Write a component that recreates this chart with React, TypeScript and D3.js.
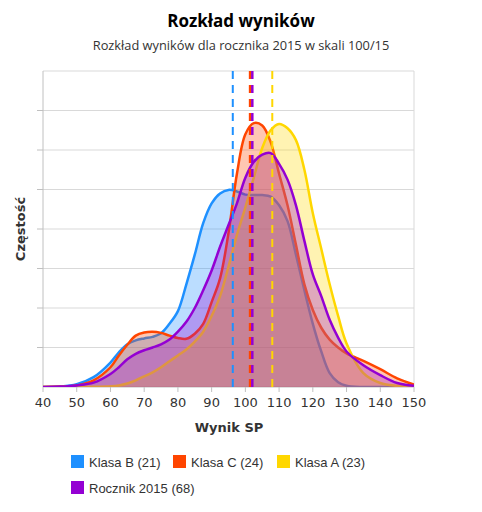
import React from "react";
import * as d3 from "d3";

const xs = [40,45,50,55,60,62.5,65,67.5,70,72.5,75,77.5,80,82.5,85,87.5,90,92.5,95,97.5,100,102.5,105,107.5,110,112.5,115,117.5,120,122.5,125,127.5,130,135,140,145,150];

const klasaB = [0,0.01,0.07,0.25,0.62,0.88,1.08,1.18,1.23,1.27,1.36,1.6,1.92,2.6,3.35,4.15,4.65,4.9,4.99,4.95,4.87,4.86,4.86,4.82,4.6,4.2,3.35,2.45,1.6,0.9,0.35,0.12,0.03,0,0,0,0];
const klasaC = [0,0.01,0.04,0.17,0.5,0.8,1.07,1.3,1.38,1.4,1.37,1.3,1.24,1.22,1.35,1.6,2.15,2.75,3.9,5.4,6.4,6.68,6.62,6.2,5.4,4.6,3.6,2.6,1.95,1.5,1.2,1.0,0.85,0.66,0.45,0.22,0.06];
const klasaA = [0,0,0,0.005,0.02,0.04,0.09,0.17,0.27,0.37,0.5,0.65,0.8,0.95,1.15,1.4,1.8,2.3,3.05,3.85,4.55,5.3,6.05,6.5,6.66,6.55,6.25,5.5,4.4,3.5,2.6,1.8,1.1,0.35,0.1,0.03,0.01];
const rocznik = [0,0.01,0.04,0.11,0.33,0.5,0.7,0.84,0.93,1.0,1.08,1.2,1.4,1.65,2.0,2.45,2.95,3.55,4.1,4.65,5.3,5.7,5.88,5.92,5.65,5.25,4.6,3.7,2.85,2.3,1.7,1.25,0.9,0.55,0.3,0.1,0.03];

const seriesNames = ["Klasa B (21)", "Klasa C (24)", "Klasa A (23)", "Rocznik 2015 (68)"];
const seriesColors = ["#1E90FF", "#FF4500", "#FFD700", "#9400D3"];
const seriesValues = [klasaB, klasaC, klasaA, rocznik];
const seriesMeans = [96.27, 101.4, 107.98, 102.06];
const meanWidths = [2, 2.5, 2, 2.5];

const xTicks = [40,50,60,70,80,90,100,110,120,130,140,150];
const yTicks = [0,1,2,3,4,5,6,7,8];

const title = "Rozkład wyników";
const subtitle = "Rozkład wyników dla rocznika 2015 w skali 100/15";
const xTitle = "Wynik SP";
const yTitle = "Częstość";

const legendPos = [[71, 455], [173, 455], [277, 455], [71, 481]];

export default function App() {
  const left = 43, right = 414, top = 71, bottom = 387;
  const x = d3.scaleLinear().domain([40, 150]).range([left, right]);
  const y = d3.scaleLinear().domain([0, 8]).range([bottom, top]);

  const curve = d3.curveCatmullRom.alpha(0.5);
  const area = d3.area<[number, number]>()
    .x(d => x(d[0])).y0(y(0)).y1(d => y(d[1]))
    .curve(curve);
  const line = d3.line<[number, number]>()
    .x(d => x(d[0])).y(d => y(d[1]))
    .curve(curve);

  const axisFont = "'DejaVu Sans', Verdana, sans-serif";

  return (
    <svg width={482} height={512} style={{ position: "absolute", left: 0, top: 0, background: "#fff" }}
      fontFamily="'Open Sans', 'Noto Sans', sans-serif">
      <defs>
        <clipPath id="plotClip">
          <rect x={left} y={top} width={right - left} height={bottom - top} />
        </clipPath>
      </defs>
      <text x={241} y={27} textAnchor="middle" fontSize={17} fontWeight="bold" fill="#000">{title}</text>
      <text x={241} y={50} textAnchor="middle" fontSize={12.8} fill="#333">{subtitle}</text>

      {yTicks.slice(1).map(t => (
        <line key={"g" + t} x1={left} x2={right} y1={y(t)} y2={y(t)} stroke="#d9d9d9" strokeWidth={1} />
      ))}
      <line x1={right} x2={right} y1={top} y2={bottom} stroke="#d9d9d9" />
      {yTicks.slice(1, -1).map(t => (
        <line key={"yt" + t} x1={left - 6} x2={left} y1={y(t)} y2={y(t)} stroke="#c0c0c0" />
      ))}
      <line x1={left} x2={left} y1={top} y2={bottom} stroke="#c0c0c0" />
      <line x1={left} x2={right} y1={bottom} y2={bottom} stroke="#c0c0c0" />
      {xTicks.map(t => (
        <line key={"xt" + t} x1={x(t)} x2={x(t)} y1={bottom} y2={bottom + 5} stroke="#c0c0c0" />
      ))}

      <g clipPath="url(#plotClip)">
        {seriesValues.map((vals, i) => {
          const pts: [number, number][] = xs.map((xv, j) => [xv, vals[j]]);
          return (
            <g key={"s" + i}>
              <path d={area(pts) || ""} fill={seriesColors[i]} fillOpacity={0.3} />
              <path d={line(pts) || ""} fill="none" stroke={seriesColors[i]} strokeWidth={2.5} />
            </g>
          );
        })}
      </g>

      {seriesMeans.map((m, i) => (
        <line key={"m" + i} x1={x(m)} x2={x(m)} y1={top} y2={bottom} stroke={seriesColors[i]}
          strokeWidth={meanWidths[i]} strokeDasharray="8,6" />
      ))}

      {xTicks.map(t => (
        <text key={"xl" + t} x={x(t)} y={407} textAnchor="middle" fontSize={13} fill="#333" fontFamily={axisFont}>{t}</text>
      ))}
      <text x={229} y={432} textAnchor="middle" fontSize={13} fontWeight="bold" fill="#333" fontFamily={axisFont}>{xTitle}</text>
      <text transform={`translate(25,${(top + bottom) / 2}) rotate(-90)`} textAnchor="middle" fontSize={13}
        fontWeight="bold" fill="#333" fontFamily={axisFont}>{yTitle}</text>

      {seriesNames.map((n, i) => (
        <g key={"l" + i} transform={`translate(${legendPos[i][0]},${legendPos[i][1]})`}>
          <rect x={0} y={0} width={13} height={13} fill={seriesColors[i]} />
          <text x={18} y={11.5} fontSize={13} fill="#333" fontFamily="'Liberation Sans', Arial, sans-serif">{n}</text>
        </g>
      ))}
    </svg>
  );
}
